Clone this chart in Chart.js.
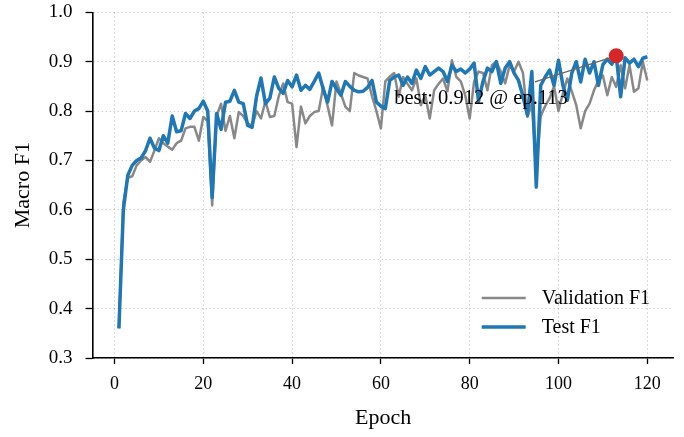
<!DOCTYPE html>
<html>
<head>
<meta charset="utf-8">
<script src="https://cdn.jsdelivr.net/npm/chart.js@4.4.1/dist/chart.umd.min.js"></script>
<style>
  html, body { margin: 0; padding: 0; background: #fff; }
</style>
</head>
<body>
<canvas id="myChart" width="684" height="437"></canvas>
<script>
'use strict';

// Epochs on the x axis
let epochs = [];
for (let i = 1; i <= 120; i++) { epochs.push(i); }

// Series values
let valF1 = [
  0.36, 0.615, 0.665, 0.668, 0.69, 0.70, 0.707, 0.697, 0.72, 0.745,
  0.735, 0.728, 0.722, 0.735, 0.74, 0.765, 0.768, 0.768, 0.74, 0.788,
  0.78, 0.609, 0.79, 0.815, 0.76, 0.79, 0.745, 0.798, 0.79, 0.775,
  0.77, 0.80, 0.785, 0.82, 0.788, 0.79, 0.83, 0.856, 0.818, 0.815,
  0.727, 0.809, 0.775, 0.79, 0.798, 0.80, 0.849, 0.81, 0.771, 0.86,
  0.835, 0.809, 0.80, 0.877, 0.872, 0.869, 0.866, 0.83, 0.80, 0.765,
  0.86, 0.87, 0.877, 0.829, 0.869, 0.855, 0.842, 0.866, 0.812, 0.832,
  0.785, 0.842, 0.855, 0.866, 0.84, 0.903, 0.869, 0.86, 0.832, 0.785,
  0.86, 0.88, 0.877, 0.842, 0.893, 0.90, 0.88, 0.856, 0.893, 0.88,
  0.90, 0.877, 0.788, 0.815, 0.68, 0.79, 0.81, 0.826, 0.85, 0.80,
  0.836, 0.866, 0.84, 0.812, 0.765, 0.80, 0.815, 0.842, 0.862, 0.872,
  0.832, 0.869, 0.849, 0.893, 0.846, 0.893, 0.839, 0.846, 0.90, 0.862
];
let testF1 = [
  0.36, 0.60, 0.67, 0.69, 0.70, 0.705, 0.72, 0.745, 0.725, 0.72,
  0.75, 0.735, 0.79, 0.758, 0.76, 0.795, 0.785, 0.80, 0.805, 0.82,
  0.80, 0.625, 0.795, 0.763, 0.818, 0.82, 0.842, 0.818, 0.815, 0.771,
  0.767, 0.83, 0.867, 0.815, 0.826, 0.869, 0.846, 0.836, 0.862, 0.849,
  0.873, 0.842, 0.852, 0.844, 0.86, 0.877, 0.845, 0.818, 0.86, 0.845,
  0.832, 0.86, 0.85, 0.842, 0.839, 0.84, 0.848, 0.862, 0.818, 0.81,
  0.805, 0.862, 0.869, 0.873, 0.852, 0.869, 0.856, 0.883, 0.866, 0.89,
  0.873, 0.88, 0.887, 0.88, 0.86, 0.893, 0.88, 0.885, 0.877, 0.885,
  0.897, 0.82, 0.86, 0.887, 0.88, 0.90, 0.856, 0.887, 0.90, 0.877,
  0.862, 0.83, 0.792, 0.88, 0.646, 0.852, 0.869, 0.883, 0.852, 0.903,
  0.852, 0.822, 0.877, 0.90, 0.859, 0.905, 0.877, 0.90, 0.852, 0.894,
  0.905, 0.895, 0.912, 0.829, 0.908, 0.897, 0.905, 0.89, 0.907, 0.91
];

let bestEpoch = 113;
let bestValue = 0.912;
let noteText = 'best: 0.912 @ ep.113';
let noteAt = [63, 0.815];        // text baseline start, data coords
let noteLineFrom = [94.7, 0.859]; // where the leader line starts

let yTicks = [0.3, 0.4, 0.5, 0.6, 0.7, 0.8, 0.9, 1.0];

let serif = '"Liberation Serif", "Times New Roman", serif';

function toPoints(values) {
  return values.map((v, i) => ({ x: epochs[i], y: v }));
}

// leader line + label for the best point
let bestNote = {
  id: 'bestNote',
  afterDatasetsDraw(chart) {
    let ctx = chart.ctx;
    let x = chart.scales.x;
    let y = chart.scales.y;
    let px = x.getPixelForValue(bestEpoch);
    let py = y.getPixelForValue(bestValue);
    let sx = x.getPixelForValue(noteLineFrom[0]);
    let sy = y.getPixelForValue(noteLineFrom[1]);
    let len = Math.hypot(px - sx, py - sy);
    let r = 7.5;
    ctx.save();
    ctx.strokeStyle = '#666';
    ctx.lineWidth = 1.2;
    ctx.beginPath();
    ctx.moveTo(sx, sy);
    ctx.lineTo(px - (px - sx) * r / len, py - (py - sy) * r / len);
    ctx.stroke();
    ctx.fillStyle = '#000';
    ctx.font = '20.5px ' + serif;
    ctx.textBaseline = 'alphabetic';
    ctx.fillText(noteText, x.getPixelForValue(noteAt[0]), y.getPixelForValue(noteAt[1]));
    ctx.restore();
  }
};

// legend inside the lower right corner, no frame
let cornerLegend = {
  id: 'cornerLegend',
  afterDraw(chart) {
    let ctx = chart.ctx;
    let area = chart.chartArea;
    chart.data.datasets.slice(0, 2).forEach((ds, i) => {
      let rowY = area.bottom - 60 + i * 29;
      ctx.save();
      ctx.strokeStyle = ds.borderColor;
      ctx.lineWidth = ds.borderWidth;
      ctx.beginPath();
      ctx.moveTo(area.right - 192, rowY);
      ctx.lineTo(area.right - 148, rowY);
      ctx.stroke();
      ctx.fillStyle = '#000';
      ctx.font = '20px ' + serif;
      ctx.textBaseline = 'middle';
      ctx.fillText(ds.label, area.right - 132, rowY + 1);
      ctx.restore();
    });
  }
};

let ctx = document.getElementById('myChart').getContext('2d');
new Chart(ctx, {
  type: 'line',
  data: {
    datasets: [
      {
        label: 'Validation F1',
        data: toPoints(valF1),
        borderColor: '#888888',
        borderWidth: 2.5,
        borderJoinStyle: 'round',
        pointRadius: 0,
        tension: 0,
        order: 3
      },
      {
        label: 'Test F1',
        data: toPoints(testF1),
        borderColor: '#1f77b4',
        borderWidth: 3.5,
        borderJoinStyle: 'round',
        pointRadius: 0,
        tension: 0,
        order: 2
      },
      {
        label: 'best',
        data: [{ x: bestEpoch, y: bestValue }],
        showLine: false,
        pointRadius: 7.5,
        pointBackgroundColor: '#d62728',
        pointBorderWidth: 0,
        order: 1
      }
    ]
  },
  options: {
    responsive: false,
    animation: false,
    devicePixelRatio: 1,
    layout: { padding: { top: 12.3, right: 10.3, left: 0, bottom: 0 } },
    plugins: {
      legend: { display: false },
      tooltip: { enabled: false }
    },
    scales: {
      x: {
        type: 'linear',
        min: -4.95,
        max: 125.95,
        ticks: {
          stepSize: 20,
          includeBounds: false,
          maxRotation: 0,
          padding: 9,
          color: '#000',
          font: { family: serif, size: 18 }
        },
        grid: {
          color: 'rgba(0,0,0,0.22)',
          lineWidth: 0.9,
          tickLength: 6,
          tickColor: '#000',
          tickWidth: 1.3
        },
        border: { display: true, color: '#000', width: 1.6, dash: [1.5, 2.5] },
        title: {
          display: true,
          text: 'Epoch',
          color: '#000',
          font: { family: serif, size: 22 },
          padding: { top: 0, bottom: 6 }
        },
        afterFit: function(scale) {
          scale.height = 79;
          scale.paddingLeft = 0;
          scale.paddingRight = 0;
        }
      },
      y: {
        min: 0.3,
        max: 1.0,
        afterBuildTicks: function(scale) {
          scale.ticks = yTicks.map(v => ({ value: v }));
        },
        ticks: {
          padding: 13,
          color: '#000',
          font: { family: serif, size: 19 },
          callback: function(value) { return Number(value).toFixed(1); }
        },
        grid: {
          color: 'rgba(0,0,0,0.22)',
          lineWidth: 0.9,
          tickLength: 7,
          tickColor: '#000',
          tickWidth: 1.3
        },
        border: { display: true, color: '#000', width: 1.6, dash: [1.5, 2.5] },
        title: {
          display: true,
          text: 'Macro F1',
          color: '#000',
          font: { family: serif, size: 22 },
          padding: { top: 10, bottom: 10 }
        },
        afterFit: function(scale) {
          scale.width = 92.5;
          scale.paddingTop = 0;
          scale.paddingBottom = 0;
        }
      }
    }
  },
  plugins: [bestNote, cornerLegend]
});
</script>
</body>
</html>
